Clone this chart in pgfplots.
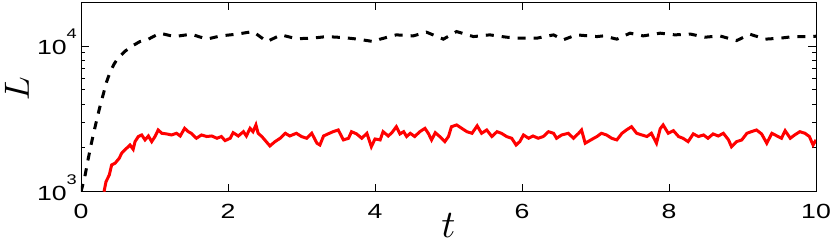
\documentclass[border=0pt]{standalone}
\usepackage{fontspec}
\setmainfont{Liberation Sans}
\newfontfamily\tickfont[FakeStretch=1.3]{Liberation Sans}
\usepackage{graphicx}
\usepackage{pgfplots}
\pgfplotsset{compat=1.18}
\newcommand{\tenpow}[1]{10\raisebox{16pt}{\fontsize{14}{14}\selectfont #1}}
\begin{document}
\begin{tikzpicture}
\begin{axis}[name=ax, scale only axis, width=735pt, height=189.7pt,
  xmin=0, xmax=10, ymode=log, ymin=1000, ymax=20000,
  xtick={0,2,4,6,8,10}, xticklabels={0,2,4,6,8,10},
  ytick={1000,10000}, yticklabels={\tenpow{3},\tenpow{4}},
  minor ytick={2000,3000,4000,5000,6000,7000,8000,9000,20000},
  xtick pos=both, ytick pos=both, tick align=inside,
  major tick length=8pt, minor tick length=4pt,
  every tick/.style={black, line width=0.7pt},
  axis line style={black, line width=0.8pt},
  tick label style={font=\tickfont\fontsize{20.5}{20.5}\selectfont, inner sep=0pt},
  xticklabel style={anchor=north, yshift=-12.3pt},
  yticklabel style={anchor=base east, xshift=-4pt, yshift=-8.5pt},
  xlabel={\scalebox{3.9}{$t$}},
  xlabel style={at={(axis description cs:0.5,0)}, anchor=center, yshift=-34pt, inner sep=0pt},
  ylabel={\scalebox{3.5}{$L$}},
  ylabel style={at={(axis description cs:-0.0871,0.544)}, anchor=center, inner sep=0pt},
  clip=true,
]
\addplot[black, line width=3pt, dash pattern=on 8pt off 8pt] coordinates {
(0,1000) (0.05,1250) (0.1,1700) (0.15,2250) (0.2,2900) (0.25,3700) (0.3,4600)
(0.35,5700) (0.4,6700) (0.45,7500) (0.5,8200) (0.6,9200) (0.7,10000) (0.8,10700)
(0.9,11000) (1.0,11700) (1.08,12200) (1.27,11580) (1.5,12030) (1.71,11120)
(1.9,11710) (2.12,12030) (2.34,12540) (2.53,10700) (2.72,11900) (2.93,11200)
(3.14,11290) (3.34,11580) (3.57,11400) (3.77,11120) (3.98,10700) (4.07,11120)
(4.29,11900) (4.52,11710) (4.70,12420) (4.93,11120) (5.11,12540) (5.34,11580)
(5.56,11900) (5.79,11470) (5.97,11290) (6.20,11290) (6.43,11900) (6.56,11000)
(6.74,11900) (7.02,11580) (7.11,11710) (7.29,11120) (7.47,12220) (7.65,11710)
(7.88,12220) (8.08,11900) (8.29,12050) (8.49,11470) (8.69,11710) (8.92,10870)
(9.10,12030) (9.31,11120) (9.51,11290) (9.69,11580) (9.94,11580) (10.0,11650)
};
\addplot[red, line width=3pt] coordinates {
(0.313,1000) (0.34,1171) (0.385,1302) (0.417,1525) (0.463,1567) (0.52,1695)
(0.553,1836) (0.62,1985) (0.667,2090) (0.71,1954) (0.735,2205) (0.78,2390)
(0.826,2450) (0.871,2265) (0.917,2410) (0.962,2205) (1.007,2390) (1.05,2650)
(1.10,2515) (1.166,2490) (1.23,2450) (1.30,2515) (1.35,2410) (1.41,2720)
(1.46,2580) (1.50,2515) (1.57,2325) (1.64,2450) (1.71,2390) (1.78,2410)
(1.85,2325) (1.91,2390) (1.96,2240) (2.03,2325) (2.07,2540) (2.14,2410)
(2.21,2580) (2.25,2410) (2.30,2720) (2.34,2580) (2.38,2870) (2.41,2515)
(2.46,2390) (2.50,2265) (2.57,2060) (2.64,2205) (2.71,2325) (2.78,2515)
(2.84,2410) (2.93,2515) (3.00,2390) (3.07,2325) (3.14,2515) (3.21,2150)
(3.25,2090) (3.30,2410) (3.36,2490) (3.43,2580) (3.50,2650) (3.57,2265)
(3.64,2325) (3.68,2580) (3.75,2490) (3.82,2325) (3.89,2515) (3.95,2035)
(4.00,2300) (4.07,2265) (4.11,2580) (4.18,2410) (4.23,2540) (4.29,2790)
(4.34,2490) (4.39,2580) (4.43,2390) (4.48,2515) (4.54,2390) (4.61,2580)
(4.68,2720) (4.73,2490) (4.77,2265) (4.82,2540) (4.88,2390) (4.95,2205)
(5.00,2390) (5.04,2790) (5.11,2870) (5.18,2720) (5.25,2580) (5.32,2515)
(5.39,2830) (5.45,2515) (5.52,2650) (5.59,2390) (5.66,2580) (5.72,2515)
(5.79,2390) (5.86,2325) (5.92,2090) (5.97,2205) (6.02,2450) (6.09,2325)
(6.15,2410) (6.22,2325) (6.29,2390) (6.36,2580) (6.43,2515) (6.47,2325)
(6.54,2450) (6.63,2515) (6.70,2325) (6.77,2515) (6.81,2650) (6.86,2150)
(6.95,2285) (7.02,2390) (7.08,2515) (7.15,2450) (7.22,2325) (7.29,2265)
(7.36,2515) (7.42,2650) (7.49,2790) (7.56,2515) (7.63,2450) (7.70,2390)
(7.76,2515) (7.83,2150) (7.88,2700) (7.92,2870) (7.99,2515) (8.06,2620)
(8.13,2390) (8.19,2325) (8.26,2205) (8.33,2490) (8.40,2390) (8.47,2450)
(8.53,2325) (8.60,2490) (8.67,2410) (8.74,2515) (8.81,2265) (8.85,2035)
(8.92,2205) (8.99,2265) (9.06,2515) (9.12,2580) (9.19,2650) (9.26,2490)
(9.33,2150) (9.40,2515) (9.47,2410) (9.53,2325) (9.58,2620) (9.65,2325)
(9.71,2450) (9.78,2580) (9.85,2515) (9.91,2390) (9.96,2090) (10.0,2265)
};
\end{axis}
\pgfresetboundingbox
\path ([xshift=-81pt,yshift=-54.3pt]ax.south west) rectangle ([xshift=14pt,yshift=2pt]ax.north east);
\end{tikzpicture}
\end{document}
